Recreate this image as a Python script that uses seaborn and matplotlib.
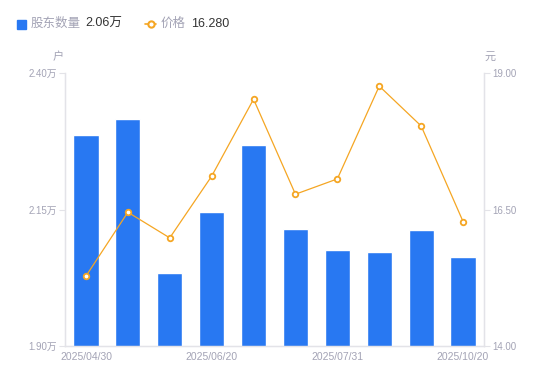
import matplotlib
matplotlib.use("Agg")
import matplotlib.pyplot as plt
import seaborn as sns
import pandas as pd
from matplotlib.lines import Line2D
from matplotlib.patches import Rectangle

# ---- data ----
dates = ["2025/04/30", "2025/05/20", "2025/05/31", "2025/06/20", "2025/06/30",
         "2025/07/10", "2025/07/31", "2025/08/20", "2025/09/30", "2025/10/20"]
holders = [2.286, 2.316, 2.034, 2.145, 2.268, 2.114, 2.076, 2.072, 2.112, 2.063]  # 万户
price = [15.28, 16.45, 15.98, 17.11, 18.52, 16.78, 17.06, 18.76, 18.03, 16.28]    # 元
left_ticks = [1.90, 2.15, 2.40]
right_ticks = [14.00, 16.50, 19.00]
shown_idx = [0, 3, 6, 9]

BLUE = "#2878F2"
ORANGE = "#F5A623"
GRAY = "#A3A3B5"
SPINE = "#E3E3E8"
DARK = "#333333"

sns.set_style("white")
plt.rcParams["font.family"] = ["Liberation Sans", "Noto Sans CJK SC", "DejaVu Sans"]

df = pd.DataFrame({"date": dates, "holders": holders, "price": price})

fig = plt.figure(figsize=(5.5, 3.81), dpi=100)
ax = fig.add_axes([65 / 550, 35 / 381, 419 / 550, 273 / 381])

sns.barplot(data=df, x="date", y="holders", color=BLUE, width=0.6,
            saturation=1, ax=ax, order=dates)
ax.set_ylim(1.90, 2.40)
ax.set_xlim(-0.5, len(dates) - 0.5)

ax2 = ax.twinx()
sns.pointplot(data=df, x="date", y="price", order=dates, color=ORANGE,
              errorbar=None, markers="o", linewidth=0.9, markersize=4,
              markerfacecolor="white", markeredgewidth=1.3, ax=ax2)
ax2.set_ylim(14.0, 19.0)
ax2.set_xlim(-0.5, len(dates) - 0.5)

for a in (ax, ax2):
    a.set_xlabel("")
    a.set_ylabel("")
    for s in a.spines.values():
        s.set_color(SPINE)
        s.set_linewidth(0.9)
    a.spines["top"].set_visible(False)
    a.grid(False)

ax.set_yticks(left_ticks)
ax.set_yticklabels([f"{v:.2f}万" for v in left_ticks])
ax2.set_yticks(right_ticks)
ax2.set_yticklabels([f"{v:.2f}" for v in right_ticks])
ax.set_xticks(shown_idx)
ax.set_xticklabels([dates[i] for i in shown_idx])

ax.tick_params(axis="y", length=4, width=0.8, color=SPINE, labelcolor=GRAY,
               labelsize=7, pad=2, left=True)
ax2.tick_params(axis="y", length=4, width=0.8, color=SPINE, labelcolor=GRAY,
                labelsize=7, pad=2, right=True)
ax.tick_params(axis="x", length=0, labelcolor=GRAY, labelsize=7.5, pad=4)
ax2.tick_params(axis="x", length=0, labelbottom=False)

# unit labels
fig.text(58 / 550, 1 - 57 / 381, "户", color=GRAY, fontsize=8, ha="center", va="center")
fig.text(490 / 550, 1 - 57 / 381, "元", color=GRAY, fontsize=8, ha="center", va="center")

# legend
ly = 1 - 24 / 381
fig.patches.append(Rectangle((17 / 550, ly - 4.5 / 381), 9 / 550, 9 / 381,
                             transform=fig.transFigure, color=BLUE, figure=fig))
fig.text(31 / 550, ly, "股东数量", color=GRAY, fontsize=9, va="center")
fig.text(85 / 550, ly, "2.06万", color=DARK, fontsize=9, va="center")
fig.lines.append(Line2D([145 / 550, 156 / 550], [ly, ly], transform=fig.transFigure,
                        color=ORANGE, lw=1.2, figure=fig))
fig.lines.append(Line2D([150.5 / 550], [ly], transform=fig.transFigure, marker="o",
                        markersize=4.5, markerfacecolor="white", markeredgecolor=ORANGE,
                        markeredgewidth=1.5, figure=fig))
fig.text(161 / 550, ly, "价格", color=GRAY, fontsize=9, va="center")
fig.text(191 / 550, ly, "16.280", color=DARK, fontsize=9, va="center")

fig.savefig("out.png", dpi=100)
